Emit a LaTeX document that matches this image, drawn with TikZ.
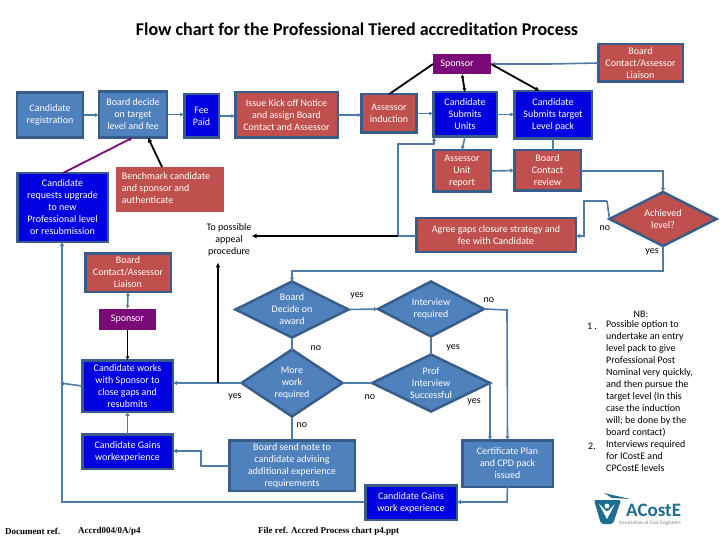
\documentclass[tikz,border=0pt]{standalone}
\usepackage{fontspec}
\setmainfont{Carlito}
\newfontfamily\footfont{Liberation Serif}
\usepackage{tikz}
\usetikzlibrary{shapes.geometric,arrows.meta,positioning,calc}
\definecolor{acblue}{RGB}{79,129,189}
\definecolor{acedge}{RGB}{56,93,138}
\definecolor{acdeep}{RGB}{0,0,224}
\definecolor{acred}{RGB}{192,80,77}
\definecolor{acpurple}{RGB}{122,10,122}
\definecolor{acline}{RGB}{79,123,168}
\definecolor{acteal}{RGB}{30,110,145}

\begin{document}
\begin{tikzpicture}[x=1pt,y=-1pt,
    base/.style={text=white, align=center, inner sep=0pt, outer sep=0pt,
                 font=\fontsize{10}{12}\selectfont},
    bluebox/.style={base, draw=acedge, line width=2.5pt, fill=acblue},
    deepbox/.style={base, draw=acedge, line width=2.5pt, fill=acdeep},
    redbox/.style={base, draw=acedge, line width=2.5pt, fill=acred},
    plainred/.style={base, fill=acred},
    purplebox/.style={base, fill=acpurple},
    bluedia/.style={base, diamond, aspect=1.9, draw=acedge, line width=2.5pt, fill=acblue},
    reddia/.style={base, diamond, aspect=1.9, draw=acedge, line width=2.5pt, fill=acred},
    note/.style={font=\fontsize{10}{12}\selectfont, align=center, inner sep=0pt},
    foot/.style={font=\footfont\bfseries\fontsize{9}{10}\selectfont, inner sep=0pt},
    arr/.style={-{Latex[length=4pt,width=4.5pt]}, line width=1.6pt, acline},
    lin/.style={line width=1.6pt, acline},
    blk/.style={-{Latex[length=5pt,width=5pt]}, line width=1.8pt, black},
    blklin/.style={line width=1.8pt, black}]
    \useasboundingbox (0,0) rectangle (720,540);
    \node[font=\bfseries\fontsize{18}{20}\selectfont, inner sep=0pt] (title) at (357,29)
        {Flow chart for the Professional Tiered accreditation Process};

    % top row
    \node[bluebox, minimum width=66pt, minimum height=45pt] (reg) at (50,115) {Candidate\\registration};
    \node[bluebox, minimum width=68pt, minimum height=46pt] (decide) at (133,114.5) {Board decide\\on target\\level and fee};
    \node[deepbox, minimum width=34.5pt, minimum height=43.5pt] (fee) at (201.5,116) {Fee\\Paid};
    \node[redbox, minimum width=102.5pt, minimum height=45.5pt] (issue) at (286.5,115) {Issue Kick off Notice\\and assign Board\\Contact and Assessor};
    \node[redbox, minimum width=55pt, minimum height=38.5pt] (induct) at (389,113.5) {Assessor\\induction};
    \node[deepbox, minimum width=63.5pt, minimum height=44.5pt] (units) at (465,114.5) {Candidate\\Submits\\Units};
    \node[deepbox, minimum width=77.5pt, minimum height=47.5pt] (target) at (553,115) {Candidate\\Submits target\\Level pack};
    \node[purplebox, minimum width=58pt, minimum height=20pt] (sptop) at (462,64) {\hspace*{-10pt}Sponsor};
    \node[redbox, minimum width=84.5pt, minimum height=37.5pt] (lsntop) at (640.5,63) {Board\\Contact/Assessor\\Liaison};

    % second row
    \node[redbox, minimum width=57.5pt, minimum height=41.5pt] (report) at (462,171) {Assessor\\Unit\\report};
    \node[redbox, minimum width=66.5pt, minimum height=40.5pt] (review) at (547.5,170.5) {Board\\Contact\\review};
    \node[reddia, minimum width=107pt, minimum height=54pt] (achieved) at (663,219) {Achieved\\level?};
    \node[redbox, minimum width=159.5pt, minimum height=33.5pt] (agree) at (496,235) {Agree gaps closure strategy and\\fee with Candidate};
    \node[plainred, minimum width=108pt, minimum height=45pt, align=left] (bench) at (170,189.5)
        {\hspace*{-4pt}\begin{tabular}{@{}l@{}}Benchmark candidate\\and sponsor and\\authenticate\end{tabular}\hspace*{4pt}};
    \node[deepbox, minimum width=90.5pt, minimum height=68.5pt] (upgrade) at (62.5,207.5)
        {Candidate\\requests upgrade\\to new\\Professional level\\or resubmission};
    \node[note] (appeal) at (229,240) {To possible\\appeal\\procedure};

    % left column
    \node[redbox, minimum width=85.5pt, minimum height=38.5pt] (lsnleft) at (128,272.5) {Board\\Contact/Assessor\\Liaison};
    \node[purplebox, minimum width=57pt, minimum height=21pt] (spleft) at (127.5,319.5) {Sponsor};
    \node[deepbox, minimum width=90.5pt, minimum height=51.5pt] (works) at (127.5,386) {Candidate works\\with Sponsor to\\close gaps and\\resubmits};
    \node[deepbox, minimum width=90.5pt, minimum height=34.5pt] (gainsleft) at (127.5,451.5) {Candidate Gains\\workexperience};

    % centre diamonds
    \node[bluedia, minimum width=113pt, minimum height=56pt] (award) at (292,309.5) {Board\\Decide on\\award};
    \node[bluedia, minimum width=101pt, minimum height=67pt] (morework) at (292,383) {More\\work\\required};
    \node[bluebox, minimum width=125.5pt, minimum height=50.5pt] (notice) at (292,465.5) {Board send note to\\candidate advising\\additional experience\\requirements};
    \node[bluedia, minimum width=106pt, minimum height=55pt] (interview) at (431,309) {Interview\\required};
    \node[bluedia, minimum width=118pt, minimum height=57pt] (prof) at (431,383) {Prof\\Interview\\Successful};
    \node[bluebox, minimum width=90.5pt, minimum height=46.5pt] (cert) at (507.5,463.5) {Certificate Plan\\and CPD pack\\issued};
    \node[deepbox, minimum width=91.5pt, minimum height=34.5pt] (gainsbot) at (411,502.5) {Candidate Gains\\work experience};

    % corners of the connectors
    \coordinate (rvcor) at (663,171);
    \coordinate (nocorA) at (607,201);
    \coordinate (nocorB) at (584,201);
    \coordinate (nocorC) at (584,236);
    \coordinate (tee) at (398,236);
    \coordinate (teeup) at (398,144);
    \coordinate (teeinto) at (434,144);
    \coordinate (teeend) at (434,137);
    \coordinate (yescorA) at (663,271);
    \coordinate (yescorB) at (292,271);
    \coordinate (tolsn) at (550,64);
    \coordinate (mwtee) at (218,383);
    \coordinate (nocorD) at (507,310);
    \coordinate (profcor) at (490,383);
    \coordinate (notecorA) at (201,466);
    \coordinate (notecorB) at (201,451);
    \coordinate (certcor) at (507,502);
    \coordinate (botcorA) at (62,502);
    \coordinate (worksend) at (60,383);

    % flow along the top
    \draw[arr] (reg.east) -- (decide.west |- reg.east);
    \draw[arr] (decide.east) -- (fee.west |- decide.east);
    \draw[arr] (fee.east) -- (issue.west |- fee.east);
    \draw[arr] (issue.east) -- (induct.west |- issue.east);
    \draw[arr] (induct.east) -- (units.west |- induct.east);
    \draw[arr] (units.east) -- (target.west |- units.east);
    \draw[arr] (units.south) -- (report.north);
    \draw[lin] (target.south |- report.north) -- (target.south);
    \draw[arr] (report.east) -- (review.west);
    \draw[arr] (review.east |- rvcor) -- (rvcor) -- (achieved.north);
    \draw[arr] (nocorA) -- (nocorB) -- (nocorC) -- (agree.east |- nocorC);
    \draw[lin] (achieved.west) -- (nocorA);
    \draw[lin] (agree.west |- tee) -- (tee);
    \draw[arr] (tee) -- (teeup) -- (teeinto) -- (teeend);
    \draw[blk] (tee) -- (appeal.east |- tee);
    \draw[arr] (lsntop.west) -- (tolsn) -- (sptop.east);
    \draw[blklin] (sptop.west) -- (induct.north);
    \draw[blk, {Latex[length=4pt,width=4pt]}-{Latex[length=4pt,width=4pt]}] (units.north) -- (sptop.south);
    \draw[blk] (sptop.east) -- ($(target.north)+(-13,0)$);
    \draw[-{Latex[length=4pt,width=4pt]}, line width=1.8pt, acpurple] (upgrade.north) -- (decide.south);
    \draw[blk] ($(bench.north)+(-8,0)$) -- ($(decide.south)+(15,0)$);

    % return to the diamonds
    \draw[arr] (achieved.south) -- (yescorA) -- (yescorB) -- (award.north);
    \draw[arr] (award.east) -- (interview.west);
    \draw[arr] (interview.east) -- (nocorD) -- (cert.north);
    \draw[lin] (interview.south) -- (prof.north);
    \draw[arr] (prof.east) -- (profcor) -- (profcor |- cert.north);
    \draw[lin] (prof.west) -- (morework.east);
    \draw[lin] (award.south) -- (morework.north);
    \draw[lin] (morework.south) -- (notice.north);
    \draw[arr] (morework.west) -- (works.east |- morework.west);
    \draw[blk] (mwtee) -- ($(appeal.south)+(-11,6)$);

    % left column links
    \draw[arr] (notice.west |- notecorA) -- (notecorA) -- (notecorB) -- (gainsleft.east |- notecorB);
    \draw[arr] (gainsleft.north) -- (works.south);
    \draw[-{Latex[length=4pt,width=4pt]}, line width=1.2pt, black] (spleft.south) -- (works.north);
    \draw[arr, {Latex[length=4pt,width=4pt]}-{Latex[length=4pt,width=4pt]}] (spleft.north) -- (lsnleft.south);
    \draw[arr] (cert.south) -- (certcor) -- (gainsbot.east |- certcor);
    \draw[arr] (gainsbot.west |- botcorA) -- (botcorA) -- (upgrade.south -| botcorA);
    \draw[arr] (works.west) -- (worksend);

    % yes and no
    \node[note] (noA) at (605,228) {no};
    \node[note] (yesA) at (652,252) {yes};
    \node[note] (yesB) at (357,296) {yes};
    \node[note] (noB) at (489,300) {no};
    \node[note] (noC) at (316,348) {no};
    \node[note] (yesC) at (453,348) {yes};
    \node[note] (yesD) at (235,397) {yes};
    \node[note] (noD) at (370,397) {no};
    \node[note] (yesE) at (474,402) {yes};
    \node[note] (noE) at (302,425) {no};

    % notes at the right
    \node[note] (nbhead) at (641,314) {NB:};
    \node[note] (numA) at (592,326) {1 .};
    \node[note, align=left, anchor=north west] (nbA) at (606,320)
        {Possible option to\\undertake an entry\\level pack to give\\Professional Post\\Nominal very quickly,\\and then pursue the\\target level (In this\\case the induction\\will; be done by the\\board contact)};
    \node[note] (numB) at (592,446) {2.};
    \node[note, align=left, anchor=north west] (nbB) at (606,440)
        {Interviews required\\for ICostE and\\CPCostE levels};

    % logo
    \fill[acteal, rounded corners=2pt] (594,500) -- (621,500) -- (613,524) -- (601,524) -- cycle;
    \fill[white] (599,504) -- (607,519) -- (615,504) -- (608,511) -- (606,511) -- cycle;
    \fill[white] (607,506) circle (2.4);
    \fill[acteal] (604,493) -- (630,499) -- (612,498) -- cycle;
    \node[font=\bfseries\fontsize{19}{20}\selectfont, text=acteal, inner sep=0pt, anchor=west] (logoname) at (626,510) {ACostE};
    \node[font=\fontsize{5.2}{6}\selectfont, text=gray, inner sep=0pt, anchor=west] (logosub) at (619,523) {Association of Cost Engineers};

    % footer
    \node[foot, anchor=west] (docref) at (5,531) {Document ref.};
    \node[foot, anchor=west] (docnum) at (78,531) {Accrd004/0A/p4};
    \node[foot, anchor=west] (fileref) at (258,531) {File ref. Accred Process chart p4.ppt};
\end{tikzpicture}
\end{document}
